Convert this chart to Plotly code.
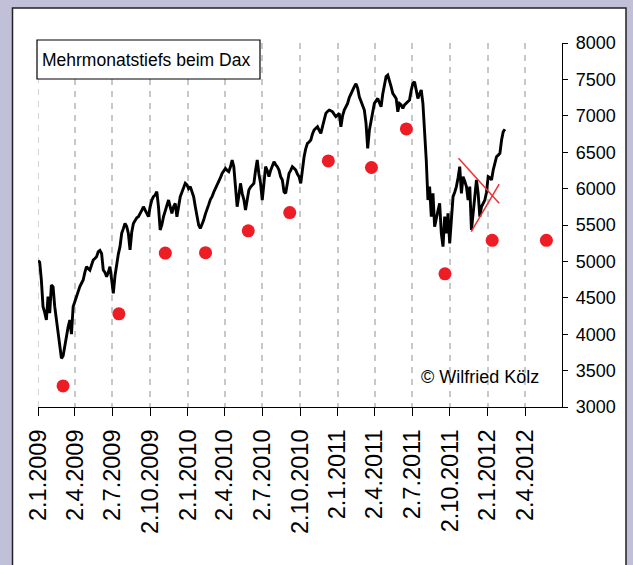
import pandas as pd
import plotly.graph_objects as go

# ---- data ----
dax_start = "2009-01-02"
dax_end = "2012-02-13"
dax_values = [
    5010, 4990, 4745, 4378, 4300, 4195, 4515, 4290, 4675, 4650,
    4378, 4200, 3966, 3800, 3668, 3700, 3850, 3966, 4100, 4195,
    4000, 4378, 4450, 4540, 4600, 4653, 4700, 4745, 4850, 4927,
    4900, 4880, 4950, 5019, 5040, 5064, 5133, 5150, 5110, 4882,
    4850, 4790, 4850, 4927, 4750, 4560, 4800, 4975, 5100, 5202,
    5385, 5450, 5522, 5480, 5385, 5157, 5400, 5522, 5560, 5600,
    5614, 5650, 5700, 5751, 5700, 5650, 5614, 5750, 5843, 5889,
    5912, 5957, 5750, 5431, 5500, 5614, 5700, 5780, 5843, 5750,
    5660, 5750, 5797, 5614, 5750, 5889, 5950, 6000, 6072, 6050,
    6000, 6027, 5950, 5889, 5750, 5614, 5500, 5453, 5500, 5568,
    5650, 5706, 5780, 5850, 5889, 5950, 6000, 6027, 6100, 6150,
    6209, 6250, 6278, 6250, 6232, 6300, 6393, 6301, 6050, 5751,
    5900, 6072, 5935, 5850, 5706, 5850, 5980, 6020, 6050, 6072,
    6250, 6393, 6200, 6072, 5843, 6100, 6301, 6250, 6164, 6250,
    6300, 6370, 6330, 6301, 6255, 6164, 6118, 5957, 5935, 6050,
    6209, 6250, 6301, 6280, 6255, 6200, 6164, 6072, 6300, 6438,
    6550, 6621, 6640, 6667, 6750, 6805, 6830, 6850, 6800, 6758,
    6850, 6950, 7033, 7060, 7079, 7070, 7056, 7020, 6988, 7010,
    7033, 6850, 7000, 7079, 7120, 7170, 7250, 7308, 7350, 7400,
    7440, 7380, 7262, 7200, 7150, 7079, 6900, 6553, 6800, 6960,
    7050, 7170, 7200, 7239, 7180, 7125, 7300, 7445, 7540, 7560,
    7491, 7400, 7308, 7270, 7239, 7056, 7170, 7150, 7102, 7150,
    7170, 7200, 7216, 7350, 7445, 7468, 7350, 7239, 7300, 7354,
    7170, 6850, 6393, 5843, 6027, 5614, 5935, 5476, 5568, 5700,
    5797, 5385, 5202, 5614, 5385, 5660, 5247, 5522, 5889, 5950,
    6027, 6150, 6301, 5935, 6164, 6100, 6027, 5843, 6027, 5431,
    5650, 5900, 6118, 5935, 5614, 5750, 5797, 5843, 5950, 6164,
    6150, 6118, 6255, 6350, 6438, 6460, 6484, 6667, 6782, 6815,
]

low_dates = ["2009-03-04", "2009-07-18", "2009-11-08", "2010-02-14", "2010-05-29",
             "2010-09-07", "2010-12-10", "2011-03-25", "2011-06-18", "2011-09-20",
             "2012-01-13", "2012-05-24"]
low_values = [3290, 4280, 5115, 5120, 5420, 5670, 6380, 6290, 6820, 4830, 5290, 5290]

trend_down_dates = ["2011-10-23", "2012-01-30"]
trend_down_values = [6416, 5798]
trend_up_dates = ["2011-11-23", "2012-01-30"]
trend_up_values = [5408, 6063]

tick_dates = ["2009-01-02", "2009-04-02", "2009-07-02", "2009-10-02",
              "2010-01-02", "2010-04-02", "2010-07-02", "2010-10-02",
              "2011-01-02", "2011-04-02", "2011-07-02", "2011-10-02",
              "2012-01-02", "2012-04-02"]
tick_labels = ["2.1.2009", "2.4.2009", "2.7.2009", "2.10.2009",
               "2.1.2010", "2.4.2010", "2.7.2010", "2.10.2010",
               "2.1.2011", "2.4.2011", "2.7.2011", "2.10.2011",
               "2.1.2012", "2.4.2012"]
y_ticks = [3000, 3500, 4000, 4500, 5000, 5500, 6000, 6500, 7000, 7500, 8000]

title_text = "Mehrmonatstiefs beim Dax"
credit_text = "© Wilfried Kölz"

# ---- figure ----
W, H = 633, 565
ML, MR, MT, MB = 38, 71, 43, 158
PW, PH = W - ML - MR, H - MT - MB
BG = "#C0C0D8"
GRID = "#C8C8C8"


def px_x(px):
    return (px - ML) / PW


def px_y(py):
    return (H - MB - py) / PH


dax_dates = pd.date_range(dax_start, dax_end, periods=len(dax_values))

FONT = "Liberation Sans, Arial, sans-serif"

fig = go.Figure()
fig.add_trace(go.Scatter(x=dax_dates, y=dax_values, mode="lines",
                         line=dict(color="black", width=2.9), hoverinfo="skip"))
fig.add_trace(go.Scatter(x=trend_down_dates, y=trend_down_values, mode="lines",
                         line=dict(color="#F03030", width=1.5)))
fig.add_trace(go.Scatter(x=trend_up_dates, y=trend_up_values, mode="lines",
                         line=dict(color="#F03030", width=1.5)))
fig.add_trace(go.Scatter(x=low_dates, y=low_values, mode="markers",
                         marker=dict(color="#EE1C25", size=13, line=dict(width=0))))

# outer white panel with border
fig.add_shape(type="rect", xref="paper", yref="paper", layer="below",
              x0=px_x(12.5), x1=px_x(626), y0=px_y(580), y1=px_y(8),
              fillcolor="white", line=dict(color="#222222", width=1.5))
# first (edge) gridline, which plotly skips at the range boundary
fig.add_shape(type="line", xref="x", yref="paper", layer="below",
              x0=tick_dates[0], x1=tick_dates[0], y0=0, y1=1,
              line=dict(color=GRID, width=1.5, dash="6px,6px"))
# title box
fig.add_shape(type="rect", xref="paper", yref="paper", layer="above",
              x0=px_x(37), x1=px_x(260), y0=px_y(79), y1=px_y(40),
              fillcolor="white", line=dict(color="black", width=1.2))
fig.add_annotation(text=title_text, xref="paper", yref="paper",
                   x=px_x(40), y=px_y(60), xanchor="left", yanchor="middle",
                   showarrow=False, font=dict(family=FONT, size=17.5, color="black"))
fig.add_annotation(text=credit_text, xref="paper", yref="paper",
                   x=px_x(541), y=px_y(377), xanchor="right", yanchor="middle",
                   showarrow=False, font=dict(family=FONT, size=18, color="black"))

fig.update_layout(
    width=W, height=H,
    margin=dict(l=ML, r=MR, t=MT, b=MB, pad=0),
    paper_bgcolor=BG,
    plot_bgcolor="white",
    showlegend=False,
    xaxis=dict(
        type="date",
        range=["2009-01-02", "2012-07-01"],
        tickmode="array", tickvals=tick_dates, ticktext=tick_labels,
        tickangle=-90,
        tickfont=dict(family=FONT, size=23.5, color="black"),
        ticks="outside", ticklen=8, tickcolor="black", tickwidth=1.2,
        showline=True, linecolor="black", linewidth=1.2,
        showgrid=True, gridcolor=GRID, gridwidth=1.5, griddash="6px,6px",
        zeroline=False,
        ticklabelstandoff=4,
    ),
    yaxis=dict(
        range=[3000, 8000], side="right",
        tickmode="array", tickvals=y_ticks,
        tickfont=dict(family=FONT, size=18, color="black"),
        ticks="outside", ticklen=5, tickcolor="black", tickwidth=1.2,
        showline=True, linecolor="black", linewidth=1.2,
        showgrid=False, zeroline=False,
        ticklabelstandoff=4,
    ),
)

fig.write_html("out.html",
               config={"displayModeBar": False},
               post_script="document.body.style.margin='0';"
                           "document.body.style.background='" + BG + "';")
